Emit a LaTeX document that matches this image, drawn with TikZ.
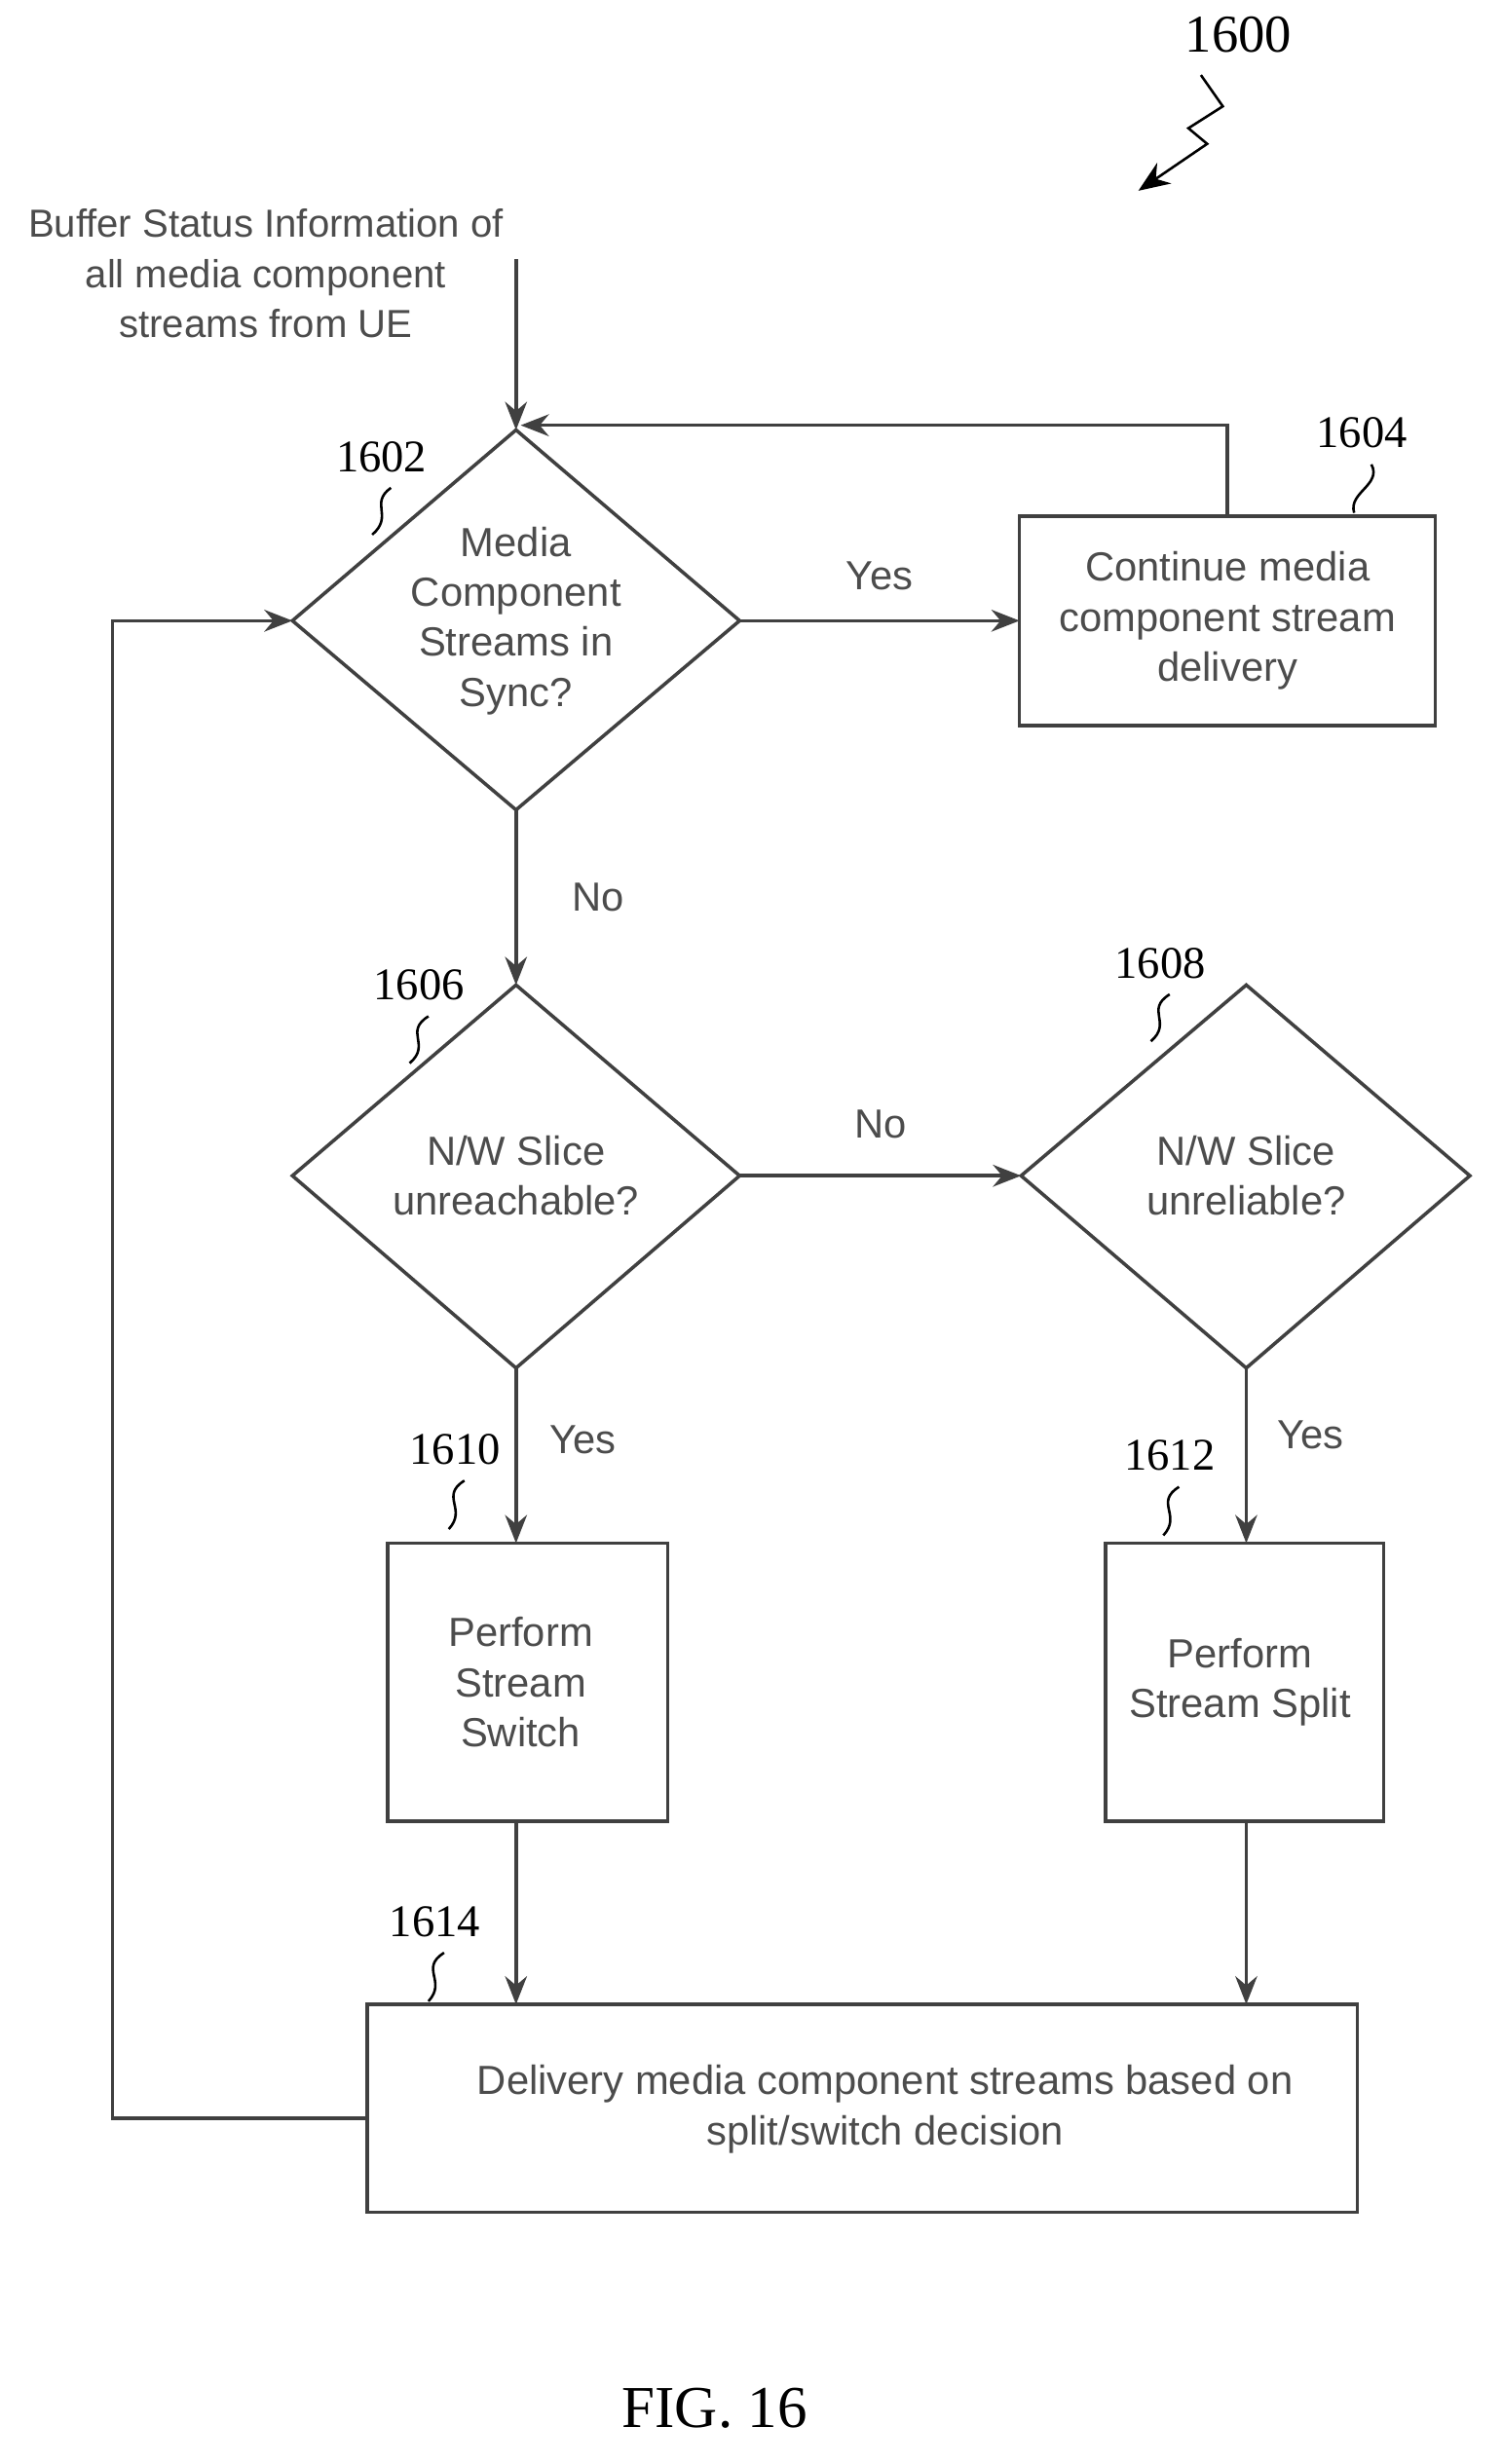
\documentclass[tikz,border=0pt]{standalone}
\usepackage{fontspec}
\setmainfont{Liberation Serif}
\setsansfont{Liberation Sans}
\usetikzlibrary{shapes.geometric,arrows.meta}
\begin{document}
\begin{tikzpicture}[x=0.5pt,y=-0.5pt,
  lin/.style={draw=black!75,line width=1.1pt},
  arr/.style={lin,-{Stealth[length=9pt,width=7pt]}},
  txt/.style={font=\sffamily\fontsize{13}{16}\selectfont,text=black!70,align=center},
  num/.style={font=\fontsize{14.5}{16}\selectfont},
  sq/.style={draw=black,line width=0.8pt}]
\useasboundingbox (0,0) rectangle (960,1576);
\coordinate (d1t) at (330,275); \coordinate (d1b) at (330,518);
\coordinate (d1l) at (187,397); \coordinate (d1r) at (473,397);
\draw[lin] (d1t)--(d1r)--(d1b)--(d1l)--cycle;
\node[txt] (d1) at (330,397) {Media\\Component\\Streams in\\Sync?};
\coordinate (d2t) at (330,630); \coordinate (d2b) at (330,875);
\coordinate (d2l) at (187,752); \coordinate (d2r) at (473,752);
\draw[lin] (d2t)--(d2r)--(d2b)--(d2l)--cycle;
\node[txt] (d2) at (330,752) {N/W Slice\\unreachable?};
\coordinate (d3t) at (797,630); \coordinate (d3b) at (797,875);
\coordinate (d3l) at (653,752); \coordinate (d3r) at (940,752);
\draw[lin] (d3t)--(d3r)--(d3b)--(d3l)--cycle;
\node[txt] (d3) at (797,752) {N/W Slice\\unreliable?};
\draw[lin] (652,330) rectangle (918,464);
\node[txt] (b4) at (785,397) {Continue media\\component stream\\delivery};
\coordinate (b4t) at (785,330); \coordinate (b4l) at (652,397);
\draw[lin] (248,987) rectangle (427,1165);
\node[txt] (b10) at (333,1076) {Perform\\Stream\\Switch};
\coordinate (b10t) at (330,987); \coordinate (b10b) at (330,1165);
\draw[lin] (707,987) rectangle (885,1165);
\node[txt] (b12) at (793,1076) {Perform\\Stream Split};
\coordinate (b12t) at (797,987); \coordinate (b12b) at (797,1165);
\draw[lin] (235,1282) rectangle (868,1415);
\node[txt] (b14) at (566,1349) {Delivery media component streams based on\\split/switch decision};
\coordinate (b14l) at (235,1355);
\coordinate (b14a) at (330,1282); \coordinate (b14b) at (797,1282);
\node[txt,font=\sffamily\fontsize{12.5}{16}\selectfont] (in) at (170,175) {Buffer Status Information of\\all media component\\streams from UE};
\coordinate (inS) at (330,166);
\draw[arr] (inS)--(d1t);
\draw[arr] (b4t)--(785,272)--(333,272);
\draw[arr] (d1r)--(b4l) node[txt,midway,above=6pt] {Yes};
\draw[arr] (d1b)--(d2t) node[txt,midway,right=14pt] {No};
\draw[arr] (d2r)--(d3l) node[txt,midway,above=8pt] {No};
\draw[arr] (d2b)--(b10t);
\node[txt] (y1) at (373,921) {Yes};
\draw[arr] (d3b)--(b12t);
\node[txt] (y2) at (838,918) {Yes};
\draw[arr] (b10b)--(b14a);
\draw[arr] (b12b)--(b14b);
\draw[arr] (b14l)--(72,1355)--(72,397)--(d1l);
\node[num] (n1602) at (244,292) {1602};
\draw[sq] (250,312) .. controls (236,322) and (252,330) .. (238,342);
\node[num] (n1604) at (871,277) {1604};
\draw[sq] (877,297) .. controls (884,310) and (862,315) .. (866,328);
\node[num] (n1606) at (268,630) {1606};
\draw[sq] (274,650) .. controls (258,660) and (276,668) .. (262,680);
\node[num] (n1608) at (742,616) {1608};
\draw[sq] (748,636) .. controls (732,646) and (750,654) .. (736,666);
\node[num] (n1610) at (291,927) {1610};
\draw[sq] (297,947) .. controls (281,957) and (299,965) .. (287,978);
\node[num] (n1612) at (748,931) {1612};
\draw[sq] (754,951) .. controls (738,961) and (756,969) .. (744,982);
\node[num] (n1614) at (278,1229) {1614};
\draw[sq] (284,1249) .. controls (268,1259) and (286,1267) .. (274,1280);
\node[num,font=\fontsize{17}{19}\selectfont] (n1600) at (792,22) {1600};
\draw[sq,-{Stealth[length=10pt,width=8pt]}] (768,48) -- (782,68) -- (760,82) -- (772,92) -- (728,122);
\node[font=\fontsize{19}{20}\selectfont] (fig) at (457,1540) {FIG. 16};
\end{tikzpicture}
\end{document}
